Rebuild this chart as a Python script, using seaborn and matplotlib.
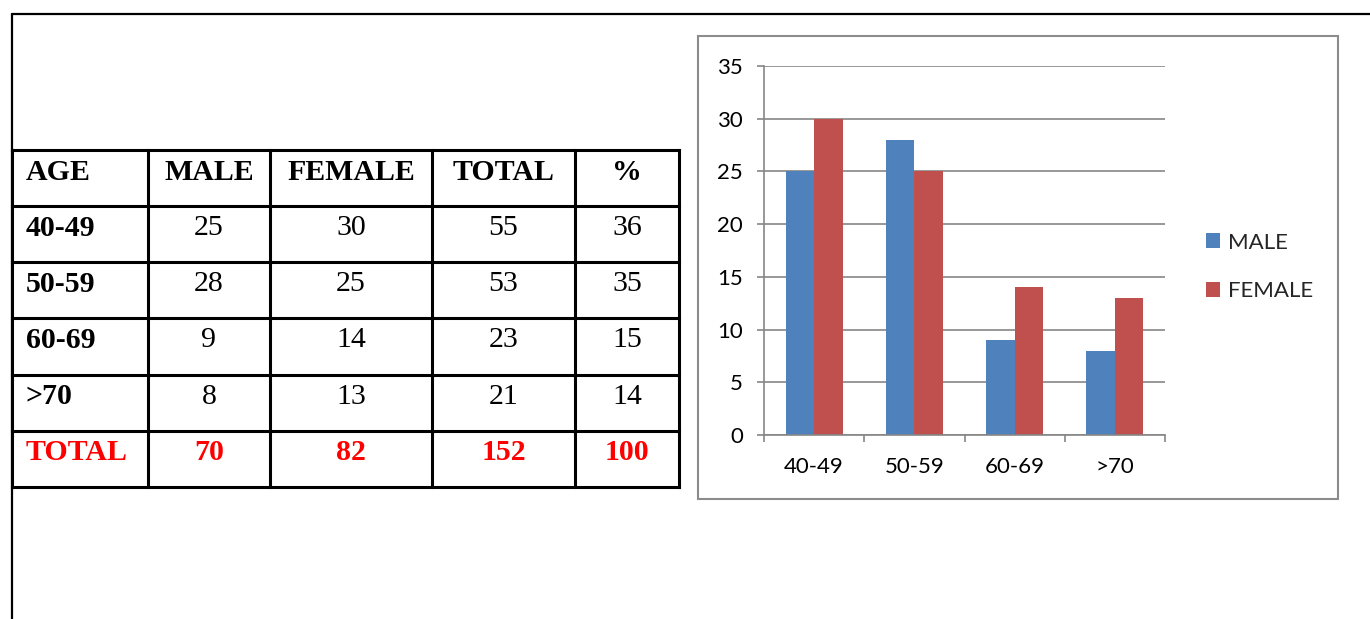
import matplotlib
matplotlib.use("Agg")
import matplotlib.pyplot as plt
import seaborn as sns
import pandas as pd
from matplotlib.patches import Rectangle

# table / chart data
ages = ["40-49", "50-59", "60-69", ">70"]
male = [25, 28, 9, 8]
female = [30, 25, 14, 13]
total = [55, 53, 23, 21]
percent = [36, 35, 15, 14]
header = ["AGE", "MALE", "FEMALE", "TOTAL", "%"]
grand_total = ["TOTAL", 70, 82, 152, 100]

blue = "#4F81BD"
red = "#C0504D"
grid_gray = "#868686"

sns.set_theme(style="white")
plt.rcParams["font.family"] = ["Lato", "DejaVu Sans"]

W, H = 1370, 619
fig = plt.figure(figsize=(W / 100, H / 100), dpi=100)

# page overlay in pixel coordinates: frame, table, chart box
page = fig.add_axes([0, 0, 1, 1])
page.set_xlim(0, W)
page.set_ylim(H, 0)
page.axis("off")

page.plot([12, W], [14, 14], color="black", lw=1.6)
page.plot([12, 12], [14, H], color="black", lw=1.6)

col_x = [12, 148, 270, 432, 575, 679]
row_y = [150, 206, 262, 318, 375, 431, 487]
for x in col_x:
    page.plot([x, x], [row_y[0], row_y[-1]], color="black", lw=2.2,
              solid_capstyle="projecting")
for y in row_y:
    page.plot([col_x[0], col_x[-1]], [y, y], color="black", lw=2.2,
              solid_capstyle="projecting")

rows = [header] + [list(r) for r in zip(ages, male, female, total, percent)] + [grand_total]
for i, row in enumerate(rows):
    y = row_y[i] + 22
    for j, val in enumerate(row):
        if i == 0:
            color, weight = "black", "bold"
        elif i == len(rows) - 1:
            color, weight = "#FF0000", "bold"
        else:
            color, weight = "black", "bold" if j == 0 else "normal"
        if j == 0:
            x, ha = col_x[0] + 14, "left"
        else:
            x, ha = (col_x[j] + col_x[j + 1]) / 2, "center"
        page.text(x, y, str(val), ha=ha, va="center", fontsize=21.5,
                  family="Liberation Serif", fontweight=weight, color=color)

page.add_patch(Rectangle((698, 36), 640, 463, fill=False,
                         edgecolor="#8C8C8C", lw=1.5))

# bar chart
ax = fig.add_axes([764 / W, (H - 435) / H, (1165 - 764) / W, (435 - 66) / H])
ax.set_facecolor("none")
df = pd.DataFrame({
    "age": ages * 2,
    "count": male + female,
    "sex": ["MALE"] * len(ages) + ["FEMALE"] * len(ages),
})
sns.barplot(data=df, x="age", y="count", hue="sex", palette=[blue, red],
            width=0.57, gap=0, saturation=1, linewidth=0, ax=ax)

ax.set_xlim(-0.5, 3.5)
ax.set_ylim(0, 35)
ax.set_yticks(range(0, 36, 5))
ax.set_xlabel("")
ax.set_ylabel("")
ax.grid(axis="y", color=grid_gray, lw=1.2)
ax.set_axisbelow(True)
for s in ["top", "right"]:
    ax.spines[s].set_visible(False)
for s in ["left", "bottom"]:
    ax.spines[s].set_color(grid_gray)
    ax.spines[s].set_linewidth(1.2)

ax.tick_params(axis="y", left=True, length=5, width=1.2, color=grid_gray,
               pad=10, labelsize=16, labelcolor="black")
ax.tick_params(axis="x", bottom=False, length=0, pad=16, labelsize=16,
               labelcolor="black")
ax.set_xticks([-0.5, 0.5, 1.5, 2.5, 3.5], minor=True)
ax.tick_params(axis="x", which="minor", bottom=True, length=5, width=1.2,
               color=grid_gray, direction="out")

handles, labels = ax.get_legend_handles_labels()
ax.legend(handles, labels, loc="center left",
          bbox_to_anchor=(1206 / W, (H - 267) / H),
          bbox_transform=fig.transFigure, frameon=False,
          handlelength=0.65, handleheight=0.65, handletextpad=0.35,
          labelspacing=1.3, borderpad=0, borderaxespad=0, fontsize=16)

fig.savefig("out.png", dpi=100)
